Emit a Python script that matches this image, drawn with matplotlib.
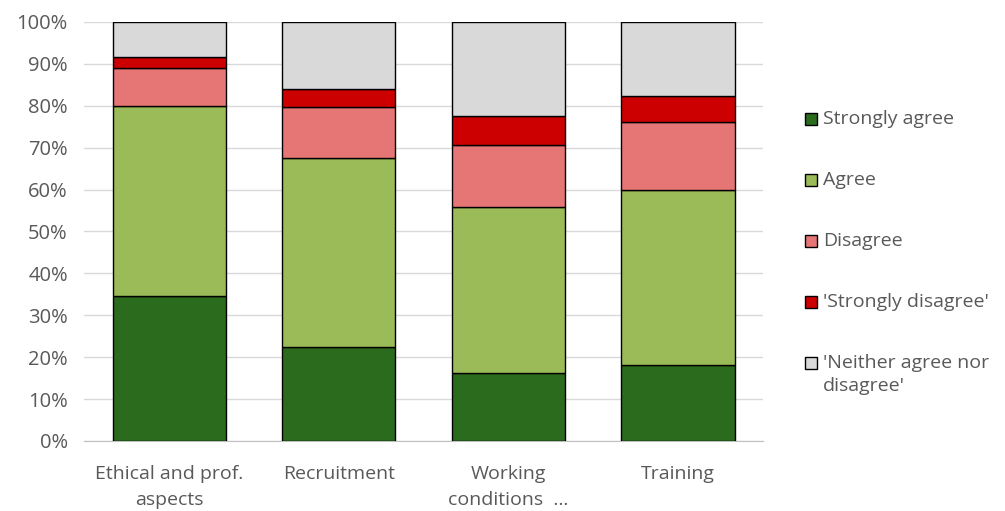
import numpy as np
import matplotlib.pyplot as plt
from matplotlib.patches import Rectangle

plt.rcParams['font.family'] = ['Open Sans', 'DejaVu Sans']

categories = ['Ethical and prof.\naspects', 'Recruitment', 'Working\nconditions  ...', 'Training']
series = ['Strongly agree', 'Agree', 'Disagree', "'Strongly disagree'",
          "'Neither agree nor\ndisagree'"]
strongly_agree = [34.7, 22.4, 16.2, 18.1]
agree = [45.2, 45.2, 39.6, 41.9]
disagree = [9.0, 12.0, 14.9, 16.1]
strongly_disagree = [2.8, 4.3, 6.9, 6.3]
neither = [8.3, 16.1, 22.4, 17.6]
colors = ['#2A6B1E', '#9BBB59', '#E67676', '#CC0000', '#D9D9D9']

values = [strongly_agree, agree, disagree, strongly_disagree, neither]
text_color = '#595959'

W, H = 1005, 511
fig = plt.figure(figsize=(W / 100, H / 100), dpi=100)
ax = fig.add_axes([0.084, 0.137, 0.675, 0.82])

x = np.arange(len(categories))
bottom = np.zeros(len(categories))
for vals, name, col in zip(values, series, colors):
    ax.bar(x, vals, 0.667, bottom=bottom, color=col, edgecolor='black',
           linewidth=1, label=name, zorder=3)
    bottom += np.array(vals)

ax.set_xlim(-0.5, len(categories) - 0.5)
ax.set_ylim(0, 100)
ax.set_yticks(np.arange(0, 101, 10))
ax.set_yticklabels([f'{v}%' for v in range(0, 101, 10)])
ax.set_xticks(x)
ax.set_xticklabels(categories, linespacing=1.6)
ax.grid(axis='y', color='#D9D9D9', linewidth=1, zorder=0)
for s in ['top', 'right', 'left']:
    ax.spines[s].set_visible(False)
ax.spines['bottom'].set_color('#BFBFBF')
ax.tick_params(axis='both', length=0, labelsize=14, colors=text_color)
ax.tick_params(axis='x', pad=17)
ax.tick_params(axis='y', labelsize=14.5, pad=12)

# legend drawn by hand so the wrapped label keeps its box on the first line
row_y = [119, 180, 241, 302, 363]
box = 12
for name, col, yy in zip(series, colors, row_y):
    fig.add_artist(Rectangle(((805) / W, 1 - (yy + box / 2) / H), box / W, box / H,
                             transform=fig.transFigure, facecolor=col,
                             edgecolor='black', linewidth=1))
    for k, line in enumerate(name.split('\n')):
        fig.text(823 / W, 1 - (yy + 23 * k) / H, line, fontsize=14,
                 color=text_color, va='center', ha='left')

fig.savefig('out.png', dpi=100)
